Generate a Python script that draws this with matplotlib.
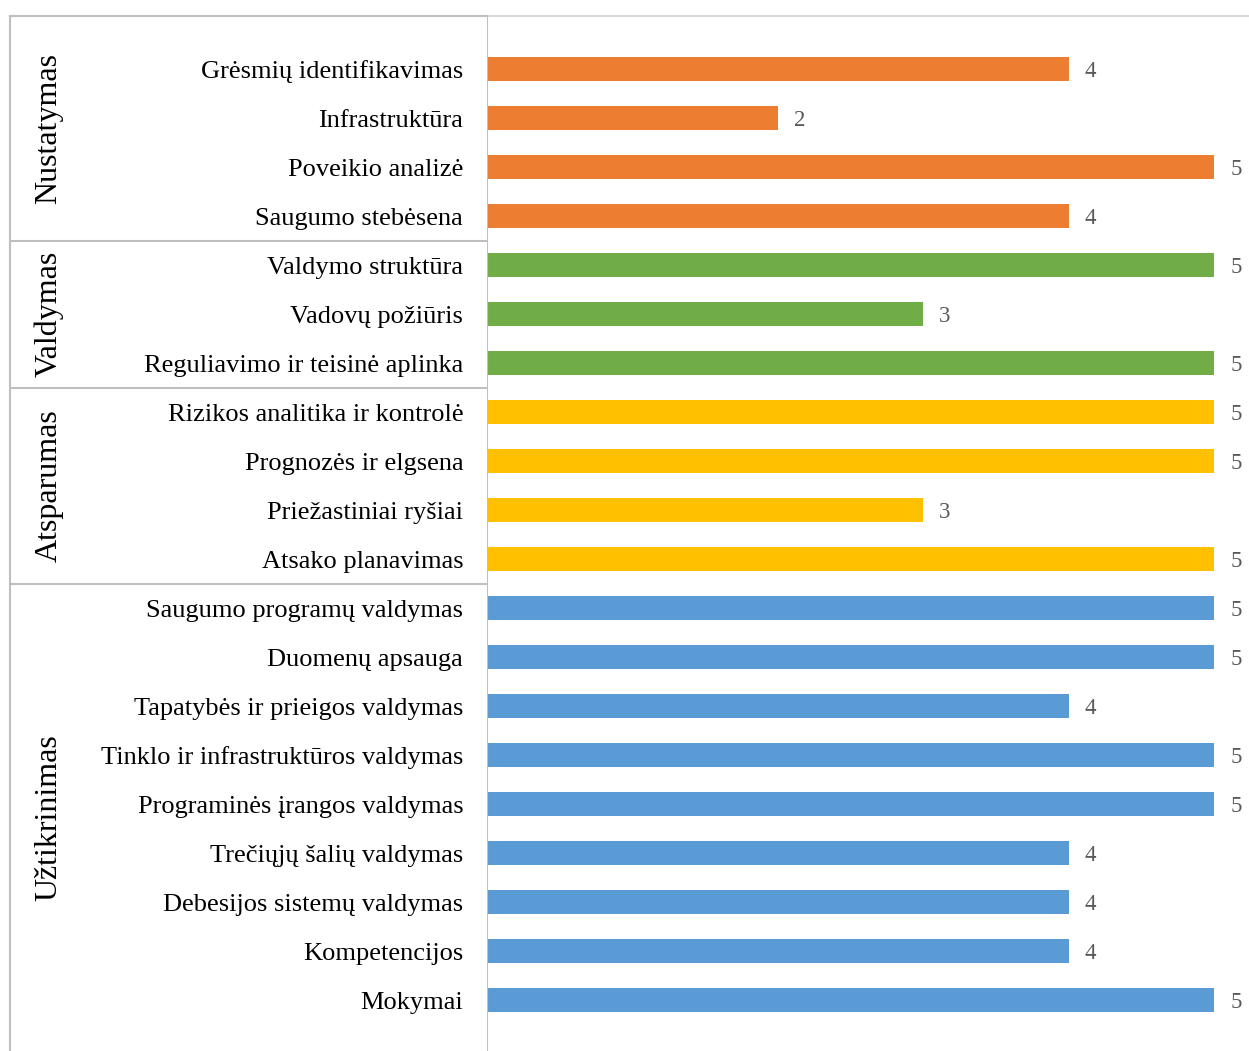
import numpy as np
import matplotlib
matplotlib.use("Agg")
import matplotlib.pyplot as plt

# Groups, their items and scores
groups = ["Nustatymas", "Valdymas", "Atsparumas", "Užtikrinimas"]
group_colors = ["#ED7D31", "#70AD47", "#FFC000", "#5B9BD5"]

items_nustatymas = ["Grėsmių identifikavimas", "Infrastruktūra",
                    "Poveikio analizė", "Saugumo stebėsena"]
scores_nustatymas = [4, 2, 5, 4]

items_valdymas = ["Valdymo struktūra", "Vadovų požiūris",
                  "Reguliavimo ir teisinė aplinka"]
scores_valdymas = [5, 3, 5]

items_atsparumas = ["Rizikos analitika ir kontrolė", "Prognozės ir elgsena",
                    "Priežastiniai ryšiai", "Atsako planavimas"]
scores_atsparumas = [5, 5, 3, 5]

items_uztikrinimas = ["Saugumo programų valdymas", "Duomenų apsauga",
                      "Tapatybės ir prieigos valdymas",
                      "Tinklo ir infrastruktūros valdymas",
                      "Programinės įrangos valdymas", "Trečiųjų šalių valdymas",
                      "Debesijos sistemų valdymas", "Kompetencijos", "Mokymai"]
scores_uztikrinimas = [5, 5, 4, 5, 5, 4, 4, 4, 5]

group_items = [items_nustatymas, items_valdymas, items_atsparumas, items_uztikrinimas]
group_scores = [scores_nustatymas, scores_valdymas, scores_atsparumas, scores_uztikrinimas]

labels, values, colors, sizes = [], [], [], []
for its, sc, col in zip(group_items, group_scores, group_colors):
    labels += its
    values += sc
    colors += [col] * len(its)
    sizes.append(len(its))
n = len(labels)
y = np.arange(n)

W, H = 1249, 1051
fig = plt.figure(figsize=(W / 100, H / 100), dpi=100)
serif = "Liberation Serif"

top_px = 16
x0_px, x1_px = 487, 1249
lab_x0 = 10
ylo, yhi = 20.04, -1.082

ax = fig.add_axes([x0_px / W, 0, (x1_px - x0_px) / W, (H - top_px) / H])
ax_lab = fig.add_axes([lab_x0 / W, 0, (x0_px - lab_x0) / W, (H - top_px) / H], sharey=ax)

ax.barh(y, values, height=0.5, color=colors)
ax.set_xlim(0, 5.24)
ax.set_ylim(ylo, yhi)
for yi, v in zip(y, values):
    ax.text(v + 0.11, yi, str(v), va="center_baseline", ha="left",
            fontsize=16.5, family=serif, color="#595959")

ax.set_xticks([])
ax.tick_params(left=False, labelleft=False)
for s in ["right", "bottom"]:
    ax.spines[s].set_visible(False)
ax.spines["top"].set_color("#d9d9d9")
ax.spines["top"].set_linewidth(1.5)
ax.spines["left"].set_color("#bfbfbf")
ax.spines["left"].set_linewidth(1.5)

# Category label area with group boxes
ax_lab.set_xlim(0, 1)
ax_lab.set_xticks([])
ax_lab.tick_params(left=False, labelleft=False)
for s in ["right", "bottom"]:
    ax_lab.spines[s].set_visible(False)
for s in ["left", "top"]:
    ax_lab.spines[s].set_color("#bfbfbf")
    ax_lab.spines[s].set_linewidth(1.5)

for yi, lab in zip(y, labels):
    ax_lab.text(0.95, yi, lab, ha="right", va="center_baseline",
                fontsize=19, family=serif, color="black")

bounds = np.cumsum(sizes)[:-1] - 0.5
ax_lab.hlines(bounds, 0, 1, color="#bfbfbf", lw=1.5)
edges = [yhi] + list(bounds) + [ylo]
for g, a, b in zip(groups, edges[:-1], edges[1:]):
    ax_lab.text(0.082, (a + b) / 2, g, rotation=90, ha="center", va="center",
                fontsize=23, family=serif, color="black")

fig.savefig("out.png", dpi=100)
